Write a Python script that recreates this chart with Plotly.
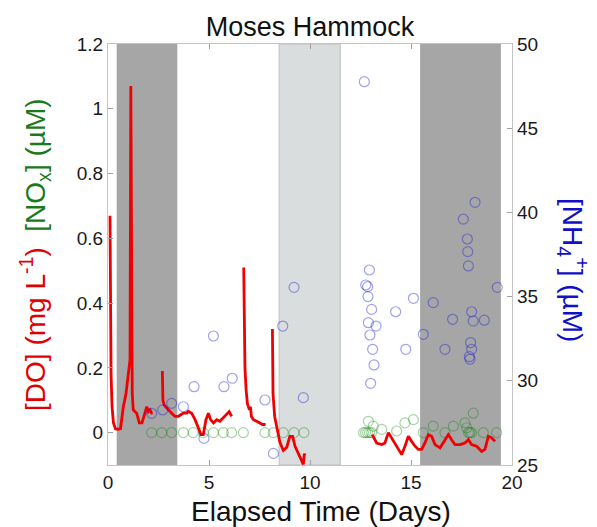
import plotly.graph_objects as go

# ---------------- data ----------------
# Dissolved oxygen (left axis, mg/L); None = gap in record
do_day = [0.10, 0.12, 0.15, 0.20, 0.27, 0.37, 0.50, 0.62, 0.70, 0.76, 0.89, 1.00, 1.09, 1.13, 1.17, 1.20,
          1.25, 1.42, 1.55, 1.68, 1.78, 1.83, 1.92, 2.00, 2.08, 2.16, 2.21, None,
          2.69, 2.72, 2.78, 2.85, 2.99, 3.15, 3.32, 3.48, 3.60, 3.73, 3.90, 3.98, 4.14, 4.31, 4.47,
          4.60, 4.72, 4.85, 4.97, 5.08, 5.22, 5.38, 5.54, 5.71, 5.87, 6.00, 6.12, None,
          6.72, 6.74, 6.78, 6.84, 6.90, 7.00, 7.05, 7.10, 7.20, 7.36, 7.52, 7.65, 7.80, None,
          8.14, 8.17, 8.25, 8.35, 8.51, 8.68, 8.85, 9.00, 9.14, 9.26, 9.42, 9.59, 9.67, 9.72, 9.75, None,
          13.08, 13.30, 13.55, 13.71, 13.88, 14.04, 14.21, 14.37, 14.54, 14.70, 14.87, 15.03, 15.20,
          15.36, 15.53, 15.69, 15.86, 16.02, 16.19, 16.44, 16.68, 16.85, 17.01, 17.18, 17.43, 17.67,
          17.84, 18.00, 18.25, 18.50, 18.66, 18.83, 18.99, 19.16]
do_val = [0.67, 0.39, 0.185, 0.08, 0.03, 0.012, 0.01, 0.012, 0.05, 0.08, 0.12, 0.185, 0.225, 1.07, 0.30, 0.12,
          0.07, 0.06, 0.03, 0.03, 0.05, 0.06, 0.08, 0.065, 0.07, 0.06, 0.06, None,
          0.19, 0.10, 0.085, 0.08, 0.07, 0.06, 0.05, 0.05, 0.055, 0.06, 0.06, 0.066, 0.06, 0.04, 0.015,
          -0.006, -0.006, 0.04, 0.06, 0.04, 0.03, 0.04, 0.035, 0.045, 0.055, 0.065, 0.05, None,
          0.51, 0.30, 0.20, 0.13, 0.09, 0.07, 0.08, 0.05, 0.04, 0.035, 0.03, 0.025, 0.025, None,
          0.32, 0.12, 0.05, 0.02, -0.03, -0.055, -0.045, -0.012, -0.012, -0.042, -0.063, -0.083, -0.098, -0.065, -0.07, None,
          -0.006, -0.032, -0.037, -0.032, 0.0, -0.016, -0.037, -0.052, -0.068, -0.042, -0.011, -0.027, -0.042,
          -0.052, -0.052, -0.032, -0.006, -0.011, -0.037, -0.047, -0.022, -0.006, -0.022, -0.037, -0.037, -0.032,
          -0.022, -0.037, -0.042, -0.058, -0.052, -0.011, -0.016, -0.027]

# NOx (left axis, uM)
nox_day = [2.16, 2.66, 3.15, 3.73, 4.22, 4.72, 5.22, 5.71, 6.12, 6.70, 7.77, 8.18, 8.68, 9.21, 9.70,
           12.65, 12.75, 12.85, 12.95, 13.05, 12.89, 13.13, 13.55, 14.29, 14.70, 15.12, 15.61, 16.10,
           16.68, 17.10, 17.67, 17.76, 17.85, 17.92, 18.00, 18.08, 18.58, 19.24]
nox_val = [0, 0, 0, 0, 0, 0, 0, 0, 0, 0, 0, 0, 0, 0, 0,
           0, 0, 0, 0, 0, 0.035, 0.02, 0.01, 0.005, 0.03, 0.04, 0.0, 0.02,
           0.0, 0.02, 0.03, 0.015, 0.0, 0.0, 0.0, 0.06, 0.0, 0.0]

# NH4+ (right axis, uM)
nh4_day = [2.16, 2.71, 3.15, 3.73, 4.26, 4.75, 5.22, 5.74, 6.15, 7.77, 8.19, 8.65, 9.21, 9.67,
           12.69, 12.94, 12.76, 12.85, 12.87, 13.05, 12.89, 13.27, 12.97, 13.10, 13.17, 13.00,
           14.24, 14.74, 15.12, 15.61, 16.10, 16.68, 17.06, 17.59, 18.17, 17.79, 17.81, 17.84,
           18.00, 18.08, 18.63, 17.95, 18.00, 17.89, 17.92, 19.27]
nh4_val = [28.07, 28.27, 28.66, 28.46, 29.65, 26.58, 32.66, 29.65, 30.15, 28.86, 25.69, 33.25, 35.55, 29.0,
           47.76, 36.58, 35.69, 35.59, 35.0, 34.24, 33.45, 33.25, 32.72, 31.87, 30.94, 29.85,
           34.1, 31.87, 34.9, 32.76, 34.64, 31.87, 33.65, 39.6, 40.6, 38.42, 37.67, 36.82,
           34.1, 33.55, 33.6, 32.27, 31.87, 31.43, 31.28, 35.55]

# shaded periods (days)
dark_periods = [(0.43, 3.43), (15.45, 19.45)]
light_periods = [(8.47, 11.5)]

x_ticks = [0, 5, 10, 15, 20]
y_ticks = [0, 0.2, 0.4, 0.6, 0.8, 1.0, 1.2]
y_ticklabels = ["0", "0.2", "0.4", "0.6", "0.8", "1", "1.2"]
y2_ticks = [25, 30, 35, 40, 45, 50]

FONT = "Liberation Sans, Arial, sans-serif"

fig = go.Figure()

fig.add_trace(go.Scatter(x=nox_day, y=nox_val, mode="markers", yaxis="y",
                         marker=dict(symbol="circle-open", size=10, color="rgba(0,128,0,0.35)",
                                     line=dict(width=1.2, color="rgba(0,128,0,0.35)")),
                         showlegend=False))
fig.add_trace(go.Scatter(x=nh4_day, y=nh4_val, mode="markers", yaxis="y2",
                         marker=dict(symbol="circle-open", size=10, color="rgba(30,30,210,0.42)",
                                     line=dict(width=1.2, color="rgba(30,30,210,0.42)")),
                         showlegend=False))
fig.add_trace(go.Scatter(x=do_day, y=do_val, mode="lines", yaxis="y",
                         line=dict(color="#f00000", width=2.8), connectgaps=False,
                         showlegend=False))

shapes = []
for a, b in dark_periods:
    shapes.append(dict(type="rect", xref="x", yref="paper", x0=a, x1=b, y0=0, y1=1,
                       fillcolor="#a6a6a6", line=dict(width=0), layer="below"))
for a, b in light_periods:
    shapes.append(dict(type="rect", xref="x", yref="paper", x0=a, x1=b, y0=0, y1=1,
                       fillcolor="#dadddd", line=dict(width=0.8, color="#b8b8b8"), layer="below"))

tickfont = dict(family=FONT, size=19, color="#1a1a1a")
axcol = "#c4c4c4"

fig.update_layout(
    width=597, height=527,
    margin=dict(l=108, r=85, t=44, b=62),
    paper_bgcolor="white", plot_bgcolor="white",
    shapes=shapes,
    title=dict(text="Moses Hammock", x=0.5, xref="paper", xanchor="center",
               y=1 - 27 / 527, yref="container", yanchor="middle",
               font=dict(family=FONT, size=27, color="#111")),
    xaxis=dict(range=[0, 20], tickvals=x_ticks, ticks="inside", ticklen=5, tickcolor="#a0a0a0",
               showline=True, linecolor=axcol, linewidth=1.2, mirror="ticks",
               showgrid=False, zeroline=False, tickfont=tickfont),
    yaxis=dict(range=[-0.1, 1.2], tickvals=y_ticks, ticktext=y_ticklabels, ticks="inside",
               ticklen=5, tickcolor="#a0a0a0", showline=True, linecolor=axcol, linewidth=1.2,
               showgrid=False, zeroline=False, tickfont=tickfont),
    yaxis2=dict(range=[25, 50], tickvals=y2_ticks, overlaying="y", side="right", ticks="inside",
                ticklen=5, tickcolor="#a0a0a0", showline=True, linecolor=axcol, linewidth=1.2,
                showgrid=False, zeroline=False, tickfont=tickfont),
    annotations=[
        dict(text='<span style="color:#e00000">[DO] (mg L<sup>-1</sup>)</span>  '
                  '<span style="color:#1a7a1a">[NO<sub>x</sub>] (µM)</span>',
             xref="paper", yref="paper", x=(35 - 108) / 404, y=0.499, textangle=-90,
             showarrow=False, xanchor="center", yanchor="middle",
             font=dict(family=FONT, size=28)),
        dict(text='[NH<sub>4</sub><sup>+</sup>] (µM)',
             xref="paper", yref="paper", x=(573 - 108) / 404, y=0.463, textangle=90,
             showarrow=False, xanchor="center", yanchor="middle",
             font=dict(family=FONT, size=28, color="#1010c8")),
        dict(text="Elapsed Time (Days)", xref="paper", yref="paper",
             x=(321 - 108) / 404, y=(465 - 512) / 421, showarrow=False,
             xanchor="center", yanchor="middle",
             font=dict(family=FONT, size=28, color="#111")),
    ],
)

fig.write_html("out.html")
